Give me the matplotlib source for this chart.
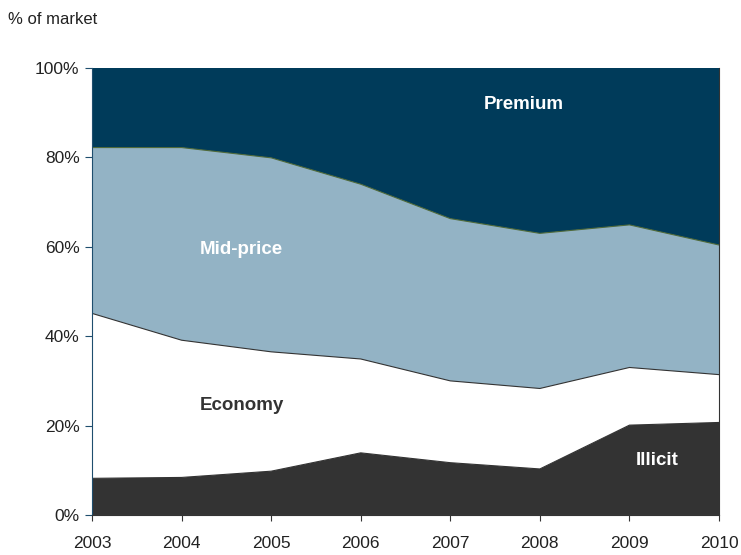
import matplotlib
matplotlib.use("Agg")
from matplotlib import pyplot as plt
from matplotlib.ticker import FuncFormatter

plt.rcParams['font.family'] = ['Liberation Sans', 'DejaVu Sans']

years = [2003, 2004, 2005, 2006, 2007, 2008, 2009, 2010]
# share of market, %
illicit = [8.2, 8.4, 9.8, 13.9, 11.7, 10.3, 20.1, 20.7]
economy = [36.9, 30.7, 26.7, 21.0, 18.3, 18.0, 12.9, 10.7]
mid_price = [37.1, 43.1, 43.4, 39.1, 36.3, 34.7, 31.9, 29.0]
premium = [100 - a - b - c for a, b, c in zip(illicit, economy, mid_price)]

segments = ['Illicit', 'Economy', 'Mid-price', 'Premium']
colors = ['#333333', '#ffffff', '#93b3c5', '#003b5a']
edge_colors = ['#333333', '#333333', '#4f6a3a']

fig = plt.figure(figsize=(7.41, 5.55), dpi=100)
ax = fig.add_axes([0.1242, 0.0721, 0.8461, 0.8054])

ax.stackplot(years, illicit, economy, mid_price, premium,
             colors=colors, labels=segments, linewidth=0)

# thin edges between the layers
bottom = [0] * len(years)
for vals, ec in zip([illicit, economy, mid_price], edge_colors):
    bottom = [b + v for b, v in zip(bottom, vals)]
    ax.plot(years, bottom, color=ec, linewidth=0.8)

ax.set_xlim(2003, 2010)
ax.set_ylim(0, 100)
ax.set_xticks(years)
ax.set_yticks([0, 20, 40, 60, 80, 100])
ax.yaxis.set_major_formatter(FuncFormatter(lambda v, p: '%d%%' % v))

ax.spines['top'].set_visible(False)
ax.spines['left'].set_color('#1f4e6e')
ax.spines['bottom'].set_color('#333333')
ax.spines['right'].set_color('#333333')
ax.tick_params(axis='y', direction='out', length=5, colors='#1f4e6e',
               labelcolor='#222222', labelsize=12.5, pad=4)
ax.tick_params(axis='x', direction='out', length=4.5, colors='#333333',
               labelcolor='#222222', labelsize=12.5, pad=10.5)

ax.text(2007.82, 91.9, 'Premium', color='white', fontsize=13.5,
        fontweight='bold', ha='center', va='center')
ax.text(2004.67, 59.5, 'Mid-price', color='white', fontsize=13.5,
        fontweight='bold', ha='center', va='center')
ax.text(2004.67, 24.6, 'Economy', color='#333333', fontsize=13.5,
        fontweight='bold', ha='center', va='center')
ax.text(2009.31, 12.3, 'Illicit', color='white', fontsize=13.5,
        fontweight='bold', ha='center', va='center')

fig.text(0.011, 0.964, '% of market', fontsize=12, color='#222222',
         ha='left', va='center')

fig.savefig('out.png', dpi=100)
